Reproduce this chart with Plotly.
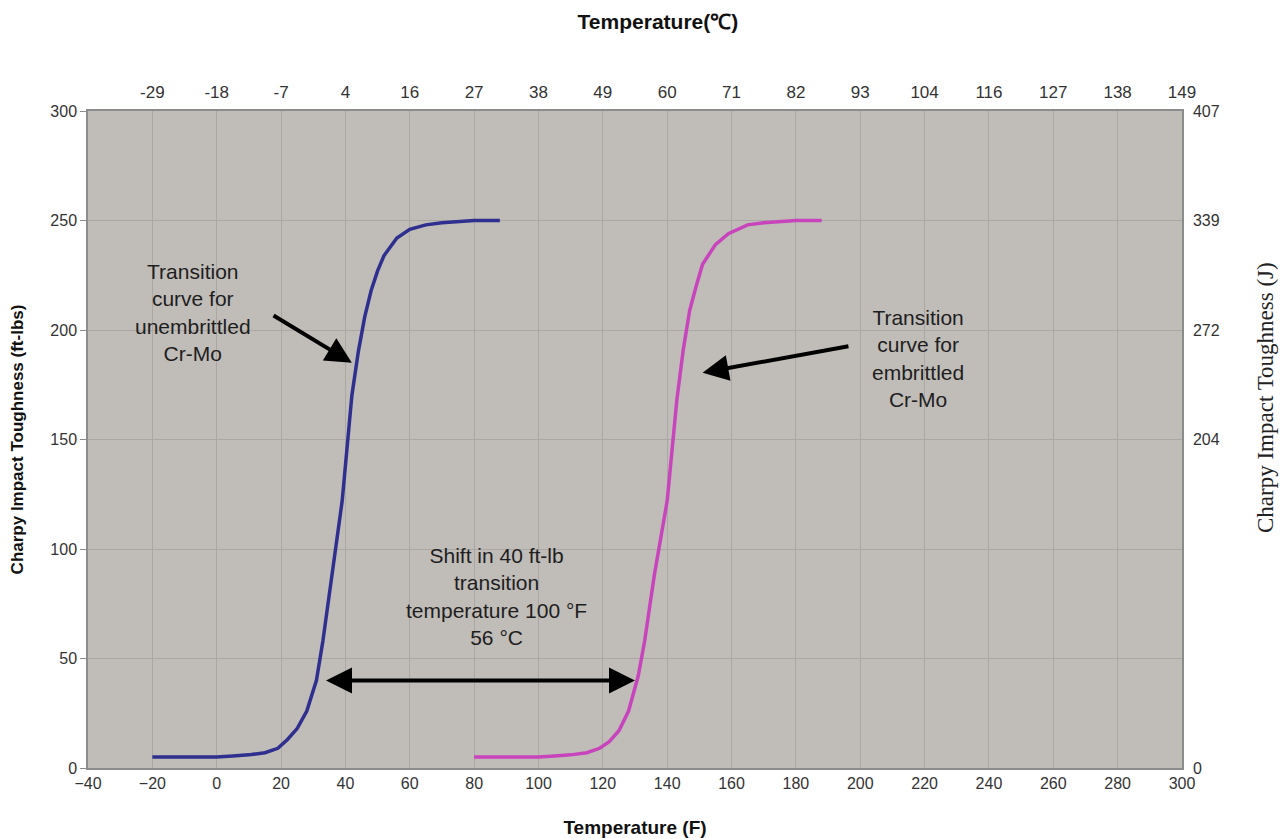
import plotly.graph_objects as go

# ---- data ----
unembrittled_temp_f = [-20, -10, 0, 5, 10, 15, 19, 22, 25, 28, 31, 33, 36, 39, 42, 44, 46, 48, 50, 52, 56, 60, 65, 70, 80, 88]
unembrittled_energy = [5, 5, 5, 5.5, 6, 7, 9, 13, 18, 26, 40, 58, 90, 122, 170, 190, 206, 218, 227, 234, 242, 246, 248, 249, 250, 250]

embrittled_temp_f = [80, 90, 100, 105, 110, 115, 119, 122, 125, 128, 130, 131, 133, 136, 140, 143, 145, 147, 149, 151, 155, 159, 165, 170, 180, 188]
embrittled_energy = [5, 5, 5, 5.5, 6, 7, 9, 12, 17, 26, 36, 42, 58, 88, 122, 168, 191, 209, 220, 230, 239, 244, 248, 249, 250, 250]

bottom_ticks_f = list(range(-40, 301, 20))
top_tick_positions_f = list(range(-20, 301, 20))
top_tick_labels_c = ["-29", "-18", "-7", "4", "16", "27", "38", "49", "60", "71", "82",
                     "93", "104", "116", "127", "138", "149"]
left_ticks = [0, 50, 100, 150, 200, 250, 300]
right_tick_positions = [0, 150, 200, 250, 300]
right_tick_labels_j = ["0", "204", "272", "339", "407"]

shift_low_f, shift_high_f, shift_level = 33.5, 130, 40

# ---- style ----
FONT = "Liberation Sans, Arial, sans-serif"
BG = "#c0bcb8"
GRID = "#aaa7a4"
AX = "#8c8c8c"
TXT = "#333333"

fig = go.Figure()
fig.add_trace(go.Scatter(x=unembrittled_temp_f, y=unembrittled_energy, mode="lines",
                         line=dict(color="#2e2f8e", width=3.5), showlegend=False))
fig.add_trace(go.Scatter(x=embrittled_temp_f, y=embrittled_energy, mode="lines",
                         line=dict(color="#c844bc", width=3.5), showlegend=False))
# invisible trace to activate the secondary (Celsius / Joule) axes
fig.add_trace(go.Scatter(x=[-40, 300], y=[0, 300], mode="lines", xaxis="x2", yaxis="y2",
                         line=dict(width=0), hoverinfo="skip", showlegend=False, opacity=0))

fig.update_layout(
    width=1280, height=839,
    margin=dict(l=88, r=98, t=111, b=71, autoexpand=False),
    paper_bgcolor="white", plot_bgcolor=BG,
    font=dict(family=FONT, color=TXT, size=16),
    title=dict(text="<b>Temperature(℃)</b>", x=0.514, xanchor="center", y=1 - 22 / 839,
               yanchor="middle", font=dict(size=21, color="#111111")),
    xaxis=dict(range=[-40, 300], tickvals=bottom_ticks_f, showgrid=True, gridcolor=GRID, gridwidth=1,
               zeroline=False, showline=True, linecolor=AX, linewidth=1.5, mirror=False,
               ticks="", tickfont=dict(size=16, color=TXT), automargin=False,
               title=dict(text="<b>Temperature (F)</b>", font=dict(size=19, color="#111111"), standoff=30)),
    xaxis2=dict(range=[-40, 300], overlaying="x", side="top", tickvals=top_tick_positions_f,
                ticktext=top_tick_labels_c, showgrid=False, zeroline=False, showline=True,
                linecolor=AX, linewidth=1.5, ticks="", ticklabelstandoff=4, automargin=False,
                tickfont=dict(size=17, color=TXT)),
    yaxis=dict(range=[0, 300], tickvals=left_ticks, showgrid=True, gridcolor=GRID, gridwidth=1,
               zeroline=False, showline=True, linecolor=AX, linewidth=1.5, ticks="outside",
               ticklen=6, tickcolor=AX, tickfont=dict(size=16, color=TXT), automargin=False,
               title=dict(text="<b>Charpy Impact Toughness (ft-lbs)</b>", font=dict(size=17, color="#111111"),
                          standoff=22)),
    yaxis2=dict(range=[0, 300], overlaying="y", side="right", tickvals=right_tick_positions,
                ticktext=right_tick_labels_j, showgrid=False, zeroline=False, showline=True,
                linecolor=AX, linewidth=1.5, ticks="", ticklabelstandoff=6, automargin=False,
                tickfont=dict(size=16, color=TXT)),
)

ann_font = dict(family=FONT, size=21, color="#1e1e1e")
fig.add_annotation(x=-7.4, y=208, xref="x", yref="y", showarrow=False,
                   text="Transition<br>curve for<br>unembrittled<br>Cr-Mo", font=ann_font)
fig.add_annotation(x=218, y=187, xref="x", yref="y", showarrow=False,
                   text="Transition<br>curve for<br>embrittled<br>Cr-Mo", font=ann_font)
fig.add_annotation(x=86.8, y=78.5, xref="x", yref="y", showarrow=False,
                   text="Shift in 40 ft-lb<br>transition<br>temperature 100 °F<br>56 °C", font=ann_font)

# arrows
arrow = dict(showarrow=True, arrowhead=2, arrowsize=1.3, arrowwidth=4, arrowcolor="black",
             xref="x", yref="y", axref="x", ayref="y", text="", standoff=0)
fig.add_annotation(x=42, y=185, ax=17.2, ay=207, **arrow)
fig.add_annotation(x=151, y=180.5, ax=196.8, ay=192.7, **arrow)
fig.add_annotation(x=shift_high_f, y=shift_level, ax=shift_low_f, ay=shift_level,
                   arrowside="end+start", startarrowhead=2, startarrowsize=1.3, startstandoff=0, **arrow)

# right axis title (serif, as in reference)
fig.add_annotation(x=(1265 - 88) / 1094, y=(768 - 398) / 657, xref="paper", yref="paper",
                   xanchor="center", yanchor="middle",
                   showarrow=False, textangle=-90, text="Charpy Impact Toughness (J)",
                   font=dict(family="Liberation Serif, DejaVu Serif, serif", size=23, color="#222222"))

fig.write_html("out.html")
